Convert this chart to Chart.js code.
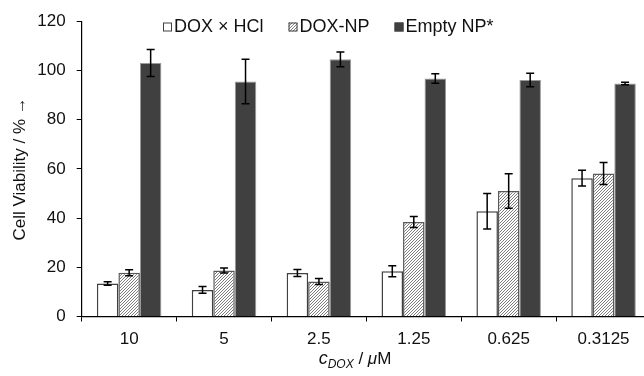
<!DOCTYPE html>
<html>
<head>
<meta charset="utf-8">
<script src="https://cdn.jsdelivr.net/npm/chart.js@4.4.1/dist/chart.umd.min.js"></script>
<style>
  html, body { margin: 0; padding: 0; background: #fff; overflow: hidden; width: 644px; height: 376px; }
  #wrap { position: relative; width: 660px; height: 376px; }
</style>
</head>
<body>
<div id="wrap"><canvas id="c" width="660" height="376"></canvas></div>
<script>
const categories = ['10', '5', '2.5', '1.25', '0.625', '0.3125'];
const seriesNames = ['DOX × HCl', 'DOX-NP', 'Empty NP*'];
const doxHclValues = [13.4, 10.8, 17.7, 18.4, 42.8, 56.2];
const doxHclErrors = [0.7, 1.4, 1.4, 2.2, 7.2, 3.2];
const doxNpValues = [17.8, 18.7, 14.2, 38.4, 51.0, 58.1];
const doxNpErrors = [1.2, 1.0, 1.2, 2.2, 7.0, 4.5];
const emptyNpValues = [103.0, 95.5, 104.5, 96.7, 96.1, 94.7];
const emptyNpErrors = [5.5, 9.0, 3.0, 1.9, 2.7, 0.5];
const yTicks = [0, 20, 40, 60, 80, 100, 120];

const FONT = '"Liberation Sans", Arial, sans-serif';

function makeHatch() {
  const s = 3;
  const pc = document.createElement('canvas');
  pc.width = s; pc.height = s;
  const g = pc.getContext('2d');
  g.fillStyle = '#ffffff';
  g.fillRect(0, 0, s, s);
  g.strokeStyle = '#6e6e6e';
  g.lineWidth = 0.9;
  g.beginPath();
  g.moveTo(0, s); g.lineTo(s, 0);
  g.moveTo(-1, 1); g.lineTo(1, -1);
  g.moveTo(s - 1, s + 1); g.lineTo(s + 1, s - 1);
  g.stroke();
  return g.createPattern(pc, 'repeat');
}
const hatch = makeHatch();

const errorsByDataset = [doxHclErrors, doxNpErrors, emptyNpErrors];

const errorBarPlugin = {
  id: 'errorBars',
  afterDatasetsDraw(chart) {
    const ctx = chart.ctx;
    const y = chart.scales.y;
    ctx.save();
    ctx.strokeStyle = '#000';
    ctx.lineWidth = 1.5;
    chart.data.datasets.forEach((ds, i) => {
      const meta = chart.getDatasetMeta(i);
      const errs = errorsByDataset[i];
      meta.data.forEach((bar, j) => {
        const v = ds.data[j];
        const e = errs[j];
        const yTop = y.getPixelForValue(v + e);
        const yBot = y.getPixelForValue(v - e);
        const x = bar.x;
        const cap = 4;
        ctx.beginPath();
        ctx.moveTo(x, yTop); ctx.lineTo(x, yBot);
        ctx.moveTo(x - cap, yTop); ctx.lineTo(x + cap, yTop);
        ctx.moveTo(x - cap, yBot); ctx.lineTo(x + cap, yBot);
        ctx.stroke();
      });
    });
    ctx.restore();
  }
};

const legendPlugin = {
  id: 'customLegend',
  afterDraw(chart) {
    const ctx = chart.ctx;
    ctx.save();
    ctx.font = '18px ' + FONT;
    ctx.textBaseline = 'middle';
    let x = 163;
    const yc = 27;
    const box = 9;
    chart.data.datasets.forEach((ds, i) => {
      ctx.fillStyle = ds.backgroundColor;
      ctx.fillRect(x, yc - box / 2, box, box);
      ctx.strokeStyle = '#404040';
      ctx.lineWidth = 1;
      ctx.strokeRect(x + 0.5, yc - box / 2 + 0.5, box - 1, box - 1);
      ctx.fillStyle = '#111';
      ctx.textAlign = 'left';
      const tx = x + box + 2;
      ctx.fillText(ds.label, tx, yc);
      x = tx + ctx.measureText(ds.label).width + 25;
    });
    ctx.restore();
  }
};

const xTitlePlugin = {
  id: 'xTitle',
  afterDraw(chart) {
    const ctx = chart.ctx;
    ctx.save();
    ctx.fillStyle = '#111';
    ctx.textBaseline = 'alphabetic';
    ctx.textAlign = 'left';
    const parts = [
      { t: 'c', f: 'italic 18px ' + FONT, dy: 0 },
      { t: 'DOX', f: 'italic 12px ' + FONT, dy: 4 },
      { t: ' / ', f: '17px ' + FONT, dy: 0 },
      { t: 'μ', f: 'italic 17px ' + FONT, dy: 0 },
      { t: 'M', f: '17px ' + FONT, dy: 0 }
    ];
    let total = 0;
    parts.forEach(p => { ctx.font = p.f; p.w = ctx.measureText(p.t).width; total += p.w; });
    let x = 355 - total / 2;
    const base = 364;
    parts.forEach(p => { ctx.font = p.f; ctx.fillText(p.t, x, base + p.dy); x += p.w; });
    ctx.restore();
  }
};

new Chart(document.getElementById('c'), {
  type: 'bar',
  data: {
    labels: categories,
    datasets: [
      { label: seriesNames[0], data: doxHclValues, backgroundColor: '#ffffff', borderColor: '#404040', borderWidth: 1.5 },
      { label: seriesNames[1], data: doxNpValues, backgroundColor: hatch, borderColor: '#5a5a5a', borderWidth: 1.5 },
      { label: seriesNames[2], data: emptyNpValues, backgroundColor: '#404040', borderColor: '#9a9a9a', borderWidth: 1 }
    ]
  },
  options: {
    responsive: false,
    animation: false,
    devicePixelRatio: 1,
    layout: { padding: { top: 21, right: 9, left: 0, bottom: 0 } },
    datasets: { bar: { barPercentage: 1.0, categoryPercentage: 0.68 } },
    plugins: { legend: { display: false }, tooltip: { enabled: false } },
    scales: {
      x: {
        grid: { offset: true, drawOnChartArea: false, drawTicks: true, tickLength: 5, color: '#000', tickColor: '#000' },
        border: { display: true, color: '#000', width: 1.2 },
        ticks: { font: { family: FONT, size: 17 }, color: '#111', padding: 8, maxRotation: 0 },
        afterFit(scale) { scale.height = 59.5; }
      },
      y: {
        min: 0, max: 120,
        afterBuildTicks(scale) { scale.ticks = yTicks.map(v => ({ value: v })); },
        grid: { drawOnChartArea: false, drawTicks: true, tickLength: 5, color: '#000', tickColor: '#000' },
        border: { display: true, color: '#000', width: 1.2 },
        ticks: { font: { family: FONT, size: 17 }, color: '#111', padding: 11 },
        title: { display: true, text: 'Cell Viability / % →', font: { family: FONT, size: 17 }, color: '#111', padding: { top: 10, bottom: 0 } },
        afterFit(scale) { scale.width = 81.7; }
      }
    }
  },
  plugins: [errorBarPlugin, legendPlugin, xTitlePlugin]
});
</script>
</body>
</html>
